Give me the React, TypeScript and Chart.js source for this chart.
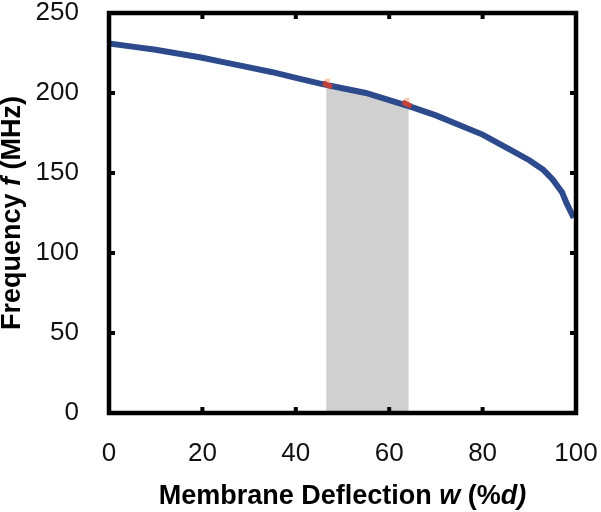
import React, { useEffect, useRef } from "react";
import { Chart, registerables } from "chart.js";

Chart.register(...registerables);

// Membrane deflection w (% of d) and resonance frequency f (MHz)
const deflection = [0, 5, 10, 15, 20, 25, 30, 35, 40, 45, 50, 55, 60, 65, 70, 75, 80, 85, 90, 93, 95, 97, 98, 99, 99.5];
const frequency = [231, 229, 227, 224.5, 222, 219, 216, 213, 209.5, 206, 203, 200, 195.5, 191, 186, 180, 174, 166, 158, 152, 146, 138, 131, 125, 122];

// Shaded operating window under the curve
const shadeX = [46.5, 50, 55, 60, 64.2];
const shadeY = [205, 203, 200, 195.5, 192];

// Highlighted points at the window edges
const markerX = [46.8, 63.8];
const markerY = [205, 193];

const xTicks = [0, 20, 40, 60, 80, 100];
const yTicks = [0, 50, 100, 150, 200, 250];

const FONT = '"Liberation Sans", Arial, sans-serif';

function drawMixed(ctx: CanvasRenderingContext2D, parts: { t: string; it: boolean }[], cx: number, cy: number) {
  const fonts = parts.map((p) => `${p.it ? "italic " : ""}bold 27px ${FONT}`);
  let total = 0;
  const widths = parts.map((p, i) => {
    ctx.font = fonts[i];
    const w = ctx.measureText(p.t).width;
    total += w;
    return w;
  });
  let x = cx - total / 2;
  ctx.textBaseline = "middle";
  ctx.textAlign = "left";
  parts.forEach((p, i) => {
    ctx.font = fonts[i];
    ctx.fillText(p.t, x, cy);
    x += widths[i];
  });
}

const framePlugin = {
  id: "frame",
  afterDraw(chart: any) {
    const { ctx, chartArea, scales } = chart;
    const { left, right, top, bottom } = chartArea;
    ctx.save();
    ctx.strokeStyle = "#000";
    ctx.lineWidth = 4.5;
    ctx.strokeRect(left, top, right - left, bottom - top);
    ctx.lineWidth = 4;
    const tl = 6;
    ctx.beginPath();
    xTicks.forEach((v) => {
      const px = scales.x.getPixelForValue(v);
      ctx.moveTo(px, bottom);
      ctx.lineTo(px, bottom - tl);
      ctx.moveTo(px, top);
      ctx.lineTo(px, top + tl);
    });
    yTicks.forEach((v) => {
      const py = scales.y.getPixelForValue(v);
      ctx.moveTo(left, py);
      ctx.lineTo(left + tl, py);
      ctx.moveTo(right, py);
      ctx.lineTo(right - tl, py);
    });
    ctx.stroke();

    ctx.fillStyle = "#000";
    drawMixed(
      ctx,
      [
        { t: "Membrane Deflection ", it: false },
        { t: "w", it: true },
        { t: " (%", it: false },
        { t: "d)", it: true },
      ],
      (left + right) / 2,
      497
    );
    ctx.save();
    ctx.translate(13, (top + bottom) / 2);
    ctx.rotate(-Math.PI / 2);
    drawMixed(
      ctx,
      [
        { t: "Frequency ", it: false },
        { t: "f", it: true },
        { t: " (MHz)", it: false },
      ],
      0,
      0
    );
    ctx.restore();
    ctx.restore();
  },
};

function zeroPad(s: any) {
  s.paddingLeft = 0;
  s.paddingRight = 0;
  s.paddingTop = 0;
  s.paddingBottom = 0;
}

export default function App() {
  const ref = useRef<HTMLCanvasElement | null>(null);
  useEffect(() => {
    if (!ref.current) return;
    const chart = new Chart(ref.current, {
      type: "line",
      data: {
        datasets: [
          {
            label: "markers",
            type: "scatter",
            data: markerX.map((x, i) => ({ x, y: markerY[i] + 1.5 })),
            pointStyle: "line",
            rotation: 90,
            pointRadius: 4,
            borderColor: "rgba(245,190,155,0.8)",
            borderWidth: 5,
            order: 1,
          } as any,
          {
            label: "markersRed",
            type: "scatter",
            data: markerX.map((x, i) => ({ x, y: markerY[i] })),
            pointStyle: "line",
            rotation: 25,
            pointRadius: 5,
            borderColor: "#c0403a",
            borderWidth: 5,
            order: 0,
          } as any,
          {
            label: "Frequency",
            data: deflection.map((x, i) => ({ x, y: frequency[i] })),
            borderColor: "#2c4a8c",
            borderWidth: 6,
            pointRadius: 0,
            tension: 0,
            fill: false,
            order: 2,
          },
          {
            label: "window",
            data: shadeX.map((x, i) => ({ x, y: shadeY[i] })),
            borderWidth: 0,
            borderColor: "rgba(0,0,0,0)",
            backgroundColor: "#d0d0d0",
            pointRadius: 0,
            fill: "origin",
            order: 3,
          },
        ],
      },
      options: {
        responsive: false,
        animation: false,
        layout: { padding: { top: 13, right: 25, left: 0, bottom: 0 } },
        plugins: { legend: { display: false }, tooltip: { enabled: false } },
        scales: {
          x: {
            type: "linear",
            min: 0,
            max: 100,
            afterFit(s: any) {
              s.height = 99;
              zeroPad(s);
            },
            afterBuildTicks(s: any) {
              s.ticks = xTicks.map((v) => ({ value: v }));
            },
            grid: { display: false },
            border: { display: false },
            ticks: {
              padding: 17,
              color: "#111",
              font: { family: FONT, size: 26 },
              maxRotation: 0,
            },
          },
          y: {
            type: "linear",
            min: 0,
            max: 250,
            afterFit(s: any) {
              s.width = 109;
              zeroPad(s);
            },
            afterBuildTicks(s: any) {
              s.ticks = yTicks.map((v) => ({ value: v }));
            },
            grid: { display: false },
            border: { display: false },
            ticks: {
              padding: 22,
              color: "#111",
              font: { family: FONT, size: 26 },
            },
          },
        },
      },
      plugins: [framePlugin],
    });
    return () => chart.destroy();
  }, []);
  return (
    <div style={{ position: "absolute", left: 0, top: 0, width: 601, height: 512, background: "#fff" }}>
      <canvas ref={ref} width={601} height={512} />
    </div>
  );
}
